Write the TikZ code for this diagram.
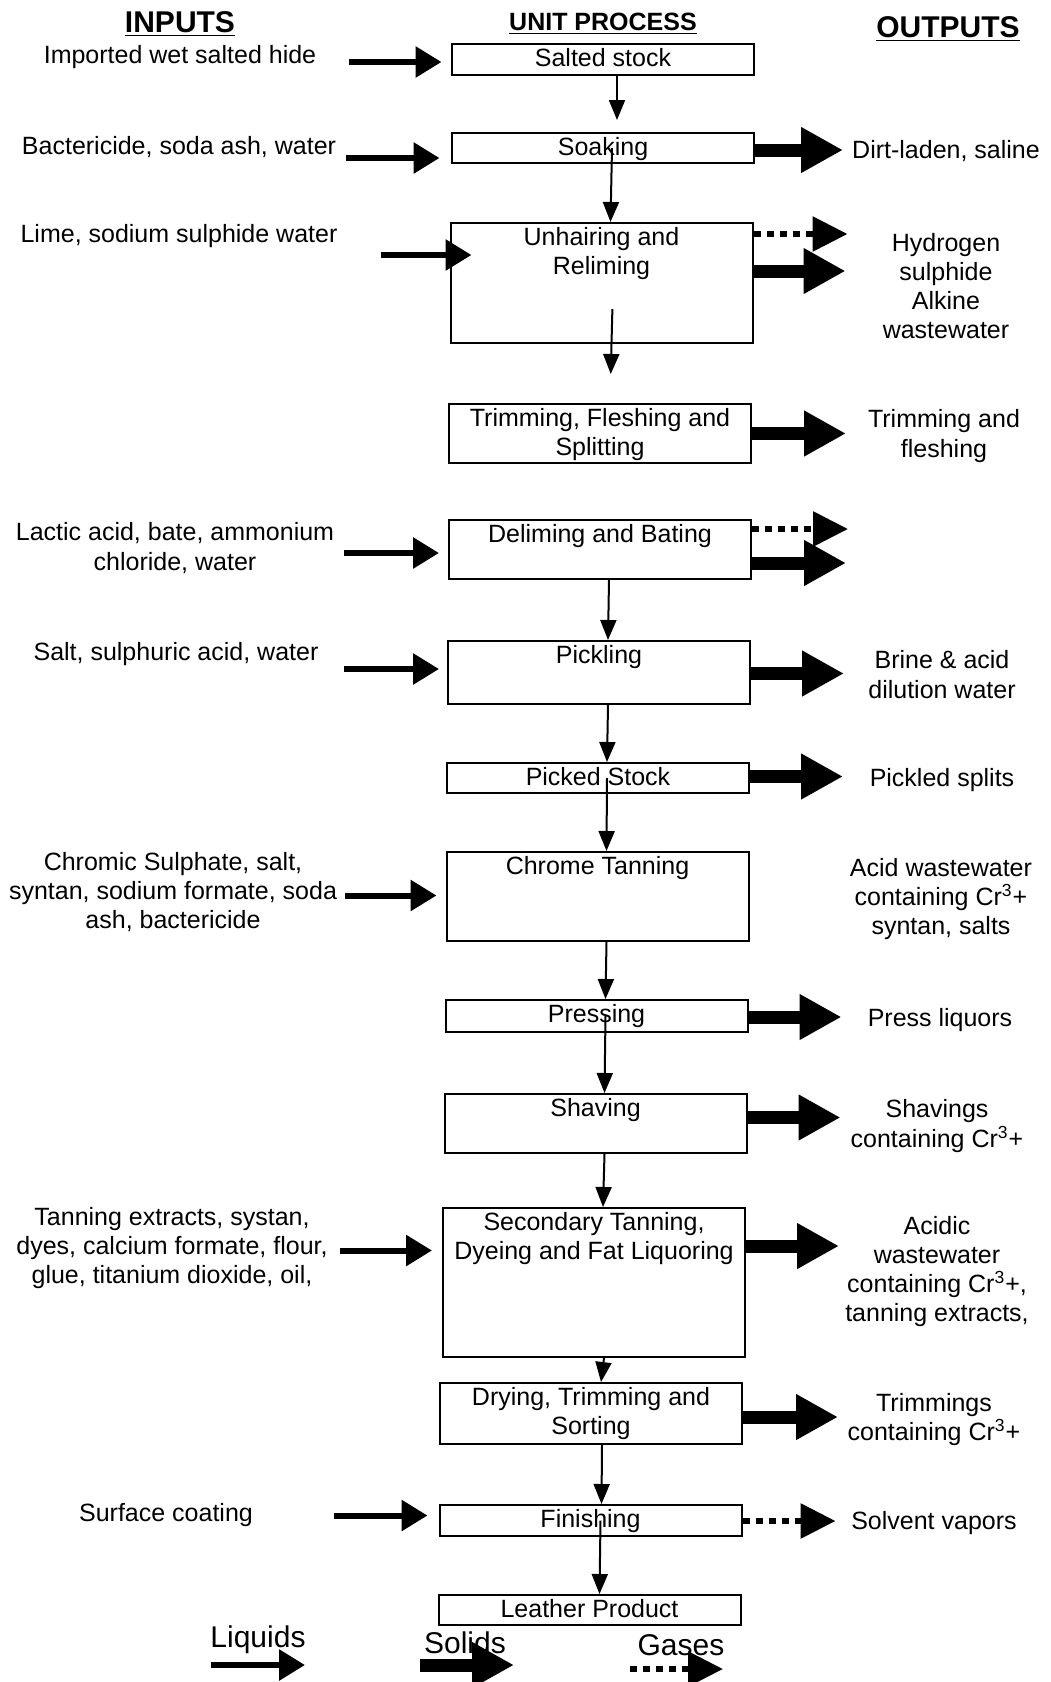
\documentclass[tikz,border=0pt]{standalone}
\usepackage{fontspec}
\setmainfont{Liberation Sans}
\usetikzlibrary{
    arrows.meta,
    calc
}
\tikzset{
  every node/.style={
    inner sep=1.5pt,
    align=center,
    font=\fontsize{12.5}{14.6}\selectfont
  },
  unit/.style={
    draw,
    line width=1pt,
    minimum width=151pt,
    inner sep=0pt
  },
  unittext/.style={
    anchor=north,
    inner sep=2.5pt
  },
  colhead/.style={
    font=\fontsize{15}{18}\selectfont\bfseries
  },
  legendtext/.style={
    font=\fontsize{15}{18}\selectfont
  },
  flow/.style={
    line width=1pt,
    -{Triangle[length=10pt,width=8pt]}
  },
  liquid/.style={
    line width=3pt,
    -{Triangle[length=13pt,width=15pt]}
  },
  solidout/.style={
    line width=6.5pt,
    -{Triangle[length=21pt,width=21.5pt]}
  },
  gasout/.style={
    line width=3pt,
    dash pattern=on 3.5pt off 3pt,
    -{Triangle[length=17.5pt,width=17pt]}
  }
}

\begin{document}
\begin{tikzpicture}[x=0.5pt,y=-0.5pt]
    \fill[white] (0,0) rectangle (1050,1682);
    \useasboundingbox (0,0) rectangle (1050,1682);
    %-------------------------
    % headings
    %-------------------------
    \node[colhead] (h-in) at (180,24) {\underline{INPUTS}};
    \node[colhead,font=\fontsize{12.5}{15}\selectfont\bfseries] (h-unit) at (603,24) {\underline{UNIT PROCESS}};
    \node[colhead] (h-out) at (948,29) {\underline{OUTPUTS}};

    %-------------------------
    % unit process
    %-------------------------
    \node[unit,minimum height=15.5pt] (stock) at (603,59.5) {};
    \node[unit,minimum height=15pt] (soak) at (603,148) {};
    \node[unit,minimum height=60pt] (unh) at (601.5,283) {};
    \node[unit,minimum height=29.5pt] (trim) at (600,433.5) {};
    \node[unit,minimum height=29.5pt] (delim) at (600,549.5) {};
    \node[unit,minimum height=31.5pt] (pick) at (599,672.5) {};
    \node[unit,minimum height=15pt] (picked) at (598,778) {};
    \node[unit,minimum height=44.5pt] (chrome) at (597.5,896.5) {};
    \node[unit,minimum height=16pt] (press) at (596.5,1016) {};
    \node[unit,minimum height=29.5pt] (shave) at (595.5,1123.5) {};
    \node[unit,minimum height=74.5pt] (second) at (594,1282.5) {};
    \node[unit,minimum height=30.5pt] (dry) at (591,1413.5) {};
    \node[unit,minimum height=15.5pt] (finish) at (590.5,1520.5) {};
    \node[unit,minimum height=15pt] (leather) at (589.5,1610) {};

    \node[unittext] (stock-t) at (stock.north) {Salted stock};
    \node[unittext] (soak-t) at (soak.north) {Soaking};
    \node[unittext] (unh-t) at (unh.north) {Unhairing and\\Reliming};
    \node[unittext] (trim-t) at (trim.north) {Trimming, Fleshing and\\Splitting};
    \node[unittext] (delim-t) at (delim.north) {Deliming and Bating};
    \node[unittext] (pick-t) at (pick.north) {Pickling};
    \node[unittext] (picked-t) at (picked.north) {Picked Stock};
    \node[unittext] (chrome-t) at (chrome.north) {Chrome Tanning};
    \node[unittext] (press-t) at (press.north) {Pressing};
    \node[unittext] (shave-t) at (shave.north) {Shaving};
    \node[unittext] (second-t) at (second.north) {Secondary Tanning,\\Dyeing and Fat Liquoring};
    \node[unittext] (dry-t) at (dry.north) {Drying, Trimming and\\Sorting};
    \node[unittext] (finish-t) at (finish.north) {Finishing};
    \node[unittext] (leather-t) at (leather.north) {Leather Product};

    \draw[flow,shorten >=6pt] ([xshift=7pt]stock.south) -- ([xshift=7pt]soak.north);
    \draw[flow] ([xshift=4.5pt]soak.center) -- ([xshift=4.5pt]unh.north);
    \draw[flow,shorten <=-17.5pt,shorten >=14.5pt] ([xshift=5pt]unh.south) -- ([xshift=5pt]trim.north);
    \draw[flow] ([xshift=4.5pt]delim.south) -- ([xshift=4.5pt]pick.north);
    \draw[flow] ([xshift=4.5pt]pick.south) -- ([xshift=4.5pt]picked.north);
    \draw[flow] ([xshift=4.5pt]picked.center) -- ([xshift=4.5pt]chrome.north);
    \draw[flow] ([xshift=4.5pt]chrome.south) -- ([xshift=4.5pt]press.north);
    \draw[flow] ([xshift=4.5pt]press.center) -- ([xshift=4.5pt]shave.north);
    \draw[flow] ([xshift=4.5pt]shave.south) -- ([xshift=4.5pt]second.north);
    \draw[flow] ([xshift=5pt]second.south) -- ([xshift=5pt]dry.north);
    \draw[flow] ([xshift=5.5pt]dry.south) -- ([xshift=5.5pt]finish.north);
    \draw[flow] ([xshift=5pt]finish.center) -- ([xshift=5pt]leather.north);

    %-------------------------
    % inputs
    %-------------------------
    \node (in-hide) at (180,57) {Imported wet salted hide};
    \node (in-soak) at (179,147) {Bactericide, soda ash, water};
    \node (in-lime) at (179,236) {Lime, sodium sulphide water};
    \node (in-lactic) at (175,548) {Lactic acid, bate, ammonium\\chloride, water};
    \node (in-salt) at (176,654) {Salt, sulphuric acid, water};
    \node (in-chrome) at (173,892) {Chromic Sulphate, salt,\\syntan, sodium formate, soda\\ash, bactericide};
    \node (in-tan) at (172,1248) {Tanning extracts, systan,\\dyes, calcium formate, flour,\\glue, titanium dioxide, oil,};
    \node (in-coat) at (166,1515) {Surface coating};

    \draw[liquid] ([shift={(-102.5,2.5)}]stock.west) -- ++(93,0);
    \draw[liquid] ([shift={(-105.5,10)}]soak.west) -- ++(94,0);
    \draw[liquid] ([shift={(-69,-28)}]unh.west) -- ++(91,0);
    \draw[liquid] ([shift={(-104,3.5)}]delim.west) -- ++(95,0);
    \draw[liquid] ([shift={(-103,-3.5)}]pick.west) -- ++(95,0);
    \draw[liquid] ([shift={(-101,-1)}]chrome.west) -- ++(92,0);
    \draw[liquid] ([shift={(-102,-32)}]second.west) -- ++(92,0);
    \draw[liquid] ([shift={(-105,-5)}]finish.west) -- ++(94,0);

    %-------------------------
    % outputs
    %-------------------------
    \node (out-dirt) at (946,151) {Dirt-laden, saline};
    \node (out-sulph) at (946,286) {Hydrogen\\sulphide\\Alkine\\wastewater};
    \node (out-flesh) at (944,436) {Trimming and\\fleshing};
    \node (out-brine) at (942,674.5) {Brine \& acid\\dilution water};
    \node (out-splits) at (942,780) {Pickled splits};
    \node (out-acid) at (941,899) {Acid wastewater\\containing Cr\textsuperscript{3}+\\syntan, salts};
    \node (out-press) at (940,1020) {Press liquors};
    \node (out-shav) at (937,1126) {Shavings\\containing Cr\textsuperscript{3}+};
    \node (out-acidic) at (937,1271.5) {Acidic\\wastewater\\containing Cr\textsuperscript{3}+,\\tanning extracts,};
    \node (out-trimm) at (934,1419.5) {Trimmings\\containing Cr\textsuperscript{3}+};
    \node (out-solv) at (934,1523) {Solvent vapors};

    \draw[solidout] ([shift={(0,2)}]soak.east) -- ++(88,0);
    \draw[gasout] ([shift={(0,-49)}]unh.east) -- ++(94,0);
    \draw[solidout] ([shift={(0,-12)}]unh.east) -- ++(92,0);
    \draw[solidout] (trim.east) -- ++(94,0);
    \draw[gasout] ([shift={(0,-20.5)}]delim.east) -- ++(96,0);
    \draw[solidout] ([shift={(0,13.5)}]delim.east) -- ++(94,0);
    \draw[solidout] ([shift={(0,1)}]pick.east) -- ++(93,0);
    \draw[solidout] ([shift={(0,-1.5)}]picked.east) -- ++(93,0);
    \draw[solidout] ([shift={(0,1)}]press.east) -- ++(93,0);
    \draw[solidout] ([shift={(0,-6)}]shave.east) -- ++(93,0);
    \draw[solidout] ([shift={(0,-36.5)}]second.east) -- ++(93,0);
    \draw[solidout] ([shift={(0,3.5)}]dry.east) -- ++(95,0);
    \draw[gasout] ([shift={(0,0.5)}]finish.east) -- ++(93,0);

    %-------------------------
    % legend
    %-------------------------
    \node[legendtext] (leg-liq) at (258,1640) {Liquids};
    \node[legendtext] (leg-sol) at (465,1643) {Solids};
    \node[legendtext] (leg-gas) at (681,1645) {Gases};
    \draw[liquid] ([shift={(-47,25)}]leg-liq.center) -- ++(94,0);
    \draw[solidout] ([shift={(-45,22)}]leg-sol.center) -- ++(94,0);
    \draw[gasout] ([shift={(-51,24)}]leg-gas.center) -- ++(93,0);
\end{tikzpicture}
\end{document}
